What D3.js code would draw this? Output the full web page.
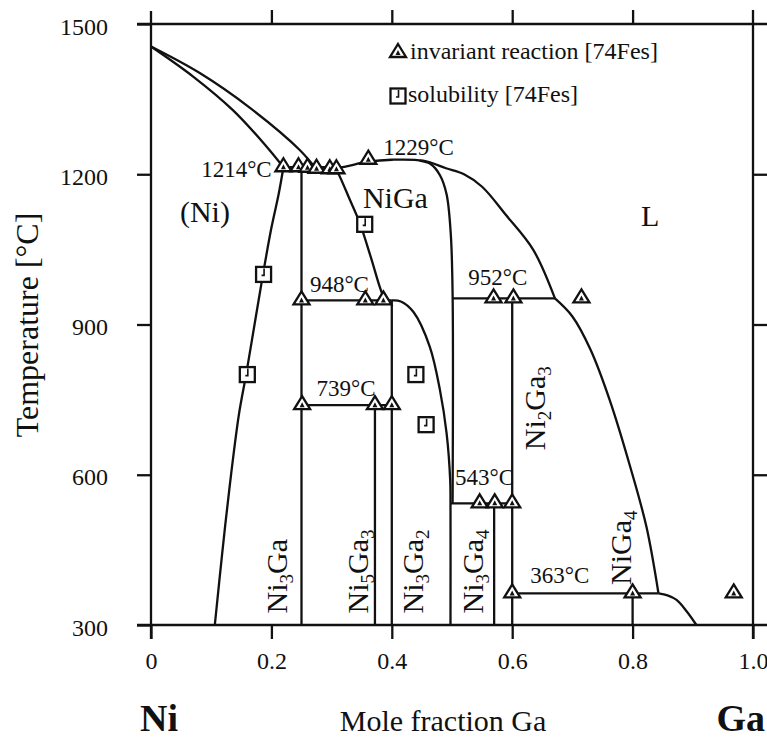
<!DOCTYPE html>
<html><head><meta charset="utf-8">
<script src="https://cdn.jsdelivr.net/npm/d3@7"></script>
<style>
html,body{margin:0;padding:0;background:#fff;}
svg{display:block;}
text{font-family:"Liberation Serif","Times New Roman",serif;}
</style></head><body>
<svg id="chart" width="767" height="742" font-family="Liberation Serif, serif"></svg>
<script>
// ---------- data (mole fraction Ga, temperature °C) ----------
const xTicks = [0, 0.2, 0.4, 0.6, 0.8, 1.0];
const xTickLabels = ["0", "0.2", "0.4", "0.6", "0.8", "1.0"];
const yTicks = [300, 600, 900, 1200, 1500];
const topTicks = [0.2, 0.4, 0.6, 0.8];
const rightTicks = [600, 900, 1200];

const niLiquidus = [[0,1455],[0.081,1402],[0.165,1332],[0.2475,1248],[0.272,1214]];
const niSolidus = [[0,1455],[0.07,1395],[0.136,1328],[0.19,1258],[0.22,1214]];
const niSolvus = [[0.22,1214],[0.212,1160],[0.2,1093],[0.186,1000],[0.172,900],[0.158,800],[0.146,720],[0.13,570],[0.118,440],[0.106,300]];
const liquidusUpper = [[0.272,1214],[0.31,1213],[0.36,1225],[0.40,1229],[0.452,1227],[0.49,1212],[0.52,1200],[0.55,1175],[0.59,1118],[0.635,1049],[0.671,952]];
const liquidusMid = [[0.671,952],[0.70,916],[0.73,850],[0.762,749],[0.796,616],[0.823,496],[0.843,363]];
const liquidusLow = [[0.843,363],[0.858,359],[0.873,350],[0.89,327],[0.906,300]];
const nigaLeft = [[0.305,1214],[0.311,1202],[0.33,1150],[0.347,1102],[0.365,1035],[0.38,975],[0.388,948]];
const nigaRight = [[0.446,1227],[0.465,1220],[0.48,1198],[0.491,1160],[0.498,1080],[0.501,960],[0.501,543]];
const ni3ga2Right = [[0.4,948],[0.415,946],[0.436,925],[0.463,856],[0.48,769],[0.491,683],[0.497,589],[0.4975,543],[0.4975,300]];

// isotherms [x1, x2, T]
const isotherms = [[0.22,0.308,1214],[0.25,0.4,948],[0.25,0.4,739],[0.501,0.671,952],[0.4975,0.6,543],[0.6,0.843,363]];
// compound lines [x, Ttop, Tbottom]
const compounds = [[0.25,1214,300],[0.372,739,300],[0.4,948,300],[0.57,543,300],[0.6,952,300],[0.8,363,300]];

const invariantPts = [[0.22,1214],[0.245,1214],[0.26,1213],[0.275,1211],[0.297,1210],[0.308,1210],[0.361,1229],
  [0.25,948],[0.356,948],[0.386,948],[0.251,739],[0.372,739],[0.4,739],
  [0.569,952],[0.602,952],[0.715,952],[0.546,543],[0.571,543],[0.6,543],
  [0.6,363],[0.8,363],[0.968,363]];
const solubilityPts = [[0.187,1000],[0.16,800],[0.355,1100],[0.44,800],[0.457,700]];

const tempLabels = ["1214°C","1229°C","948°C","739°C","952°C","543°C","363°C"];
const tempLabelAt = [[0.2005,1195],[0.386,1238],[0.264,965],[0.275,758],[0.527,979],[0.505,580],[0.63,384]];
const regionLabels = ["(Ni)","NiGa","L"];
const regionLabelAt = [[0.048,1105],[0.352,1133],[0.814,1097]];
const compoundNames = ["Ni_3Ga","Ni_5Ga_3","Ni_3Ga_2","Ni_3Ga_4","Ni_2Ga_3","NiGa_4"];
const compoundLabelAt = [[0.226,323],[0.361,323],[0.452,323],[0.551,323],[0.654,649],[0.797,380]];
const legendLabels = ["invariant reaction [74Fes]","solubility [74Fes]"];

// ---------- drawing ----------
const FONT = "Liberation Serif, serif";
const svg = d3.select("#chart");
const x = d3.scaleLinear().domain([0,1]).range([151,753]);
const y = d3.scaleLinear().domain([300,1500]).range([625,24]);
const ink = "#111";
const ext = 14;
const sw = 2.3;

// frame
const [x0,x1] = x.range(), [y0,y1] = y.range();
const frame = svg.append("g").attr("stroke",ink).attr("stroke-width",sw);
frame.append("line").attr("x1",x0).attr("x2",x0).attr("y1",y1-ext+1).attr("y2",y0+ext);
frame.append("line").attr("x1",x1).attr("x2",x1).attr("y1",y1-ext).attr("y2",y0+ext);
frame.append("line").attr("x1",x0-ext).attr("x2",767).attr("y1",y1).attr("y2",y1);
frame.append("line").attr("x1",x0-ext).attr("x2",767).attr("y1",y0).attr("y2",y0);

function styleAxis(g){
  g.attr("font-family",FONT).attr("font-size",24);
  g.select(".domain").remove();
  g.selectAll(".tick line").attr("stroke",ink).attr("stroke-width",sw);
  g.selectAll("text").attr("fill",ink).attr("font-family",FONT).attr("font-size",24);
}
svg.append("g").attr("transform",`translate(0,${y0})`)
  .call(d3.axisBottom(x).tickValues(xTicks).tickSize(ext).tickPadding(13).tickFormat((d,i)=>xTickLabels[i]))
  .call(styleAxis);
svg.append("g").attr("transform",`translate(${x0},0)`)
  .call(d3.axisLeft(y).tickValues(yTicks).tickSize(ext).tickPadding(29).tickFormat(d3.format("d")))
  .call(styleAxis).selectAll("text").attr("dy","0.42em");
svg.append("g").attr("transform",`translate(0,${y1})`)
  .call(d3.axisTop(x).tickValues(topTicks).tickSize(ext).tickFormat(""))
  .call(styleAxis);
svg.append("g").attr("transform",`translate(${x1},0)`)
  .call(d3.axisRight(y).tickValues(rightTicks).tickSize(ext).tickFormat(""))
  .call(styleAxis);

// curves
const line = d3.line().x(d=>x(d[0])).y(d=>y(d[1])).curve(d3.curveCatmullRom.alpha(0.5));
const curves = [niLiquidus, niSolidus, niSolvus, liquidusUpper, liquidusMid, liquidusLow, nigaLeft, nigaRight, ni3ga2Right];
svg.append("g").selectAll("path").data(curves).join("path")
  .attr("d",line).attr("fill","none").attr("stroke",ink).attr("stroke-width",sw);

svg.append("g").selectAll("line").data(isotherms).join("line")
  .attr("x1",d=>x(d[0])).attr("x2",d=>x(d[1])).attr("y1",d=>y(d[2])).attr("y2",d=>y(d[2]))
  .attr("stroke",ink).attr("stroke-width",sw);
svg.append("g").selectAll("line").data(compounds).join("line")
  .attr("x1",d=>x(d[0])).attr("x2",d=>x(d[0])).attr("y1",d=>y(d[1])).attr("y2",d=>y(d[2]))
  .attr("stroke",ink).attr("stroke-width",sw);

// markers
function triangle(g){
  g.append("path").attr("d","M0,-9L8,4L-8,4Z").attr("fill","#fff").attr("stroke",ink).attr("stroke-width",sw).attr("stroke-linejoin","miter");
  g.append("path").attr("d","M0,-3L2.5,2L-2.5,2Z").attr("fill",ink);
}
function square(g){
  g.append("rect").attr("x",-7.5).attr("y",-7.5).attr("width",15).attr("height",15).attr("fill","#fff").attr("stroke",ink).attr("stroke-width",sw);
  g.append("path").attr("d","M0.5,-6V1H-2").attr("fill","none").attr("stroke",ink).attr("stroke-width",1.6);
}
svg.append("g").selectAll("g").data(invariantPts).join("g")
  .attr("transform",d=>`translate(${x(d[0])},${y(d[1])})`).each(function(){triangle(d3.select(this));});
svg.append("g").selectAll("g").data(solubilityPts).join("g")
  .attr("transform",d=>`translate(${x(d[0])},${y(d[1])})`).each(function(){square(d3.select(this));});

// temperature labels
svg.append("g").selectAll("text").data(tempLabels).join("text")
  .attr("x",(d,i)=>x(tempLabelAt[i][0])).attr("y",(d,i)=>y(tempLabelAt[i][1]))
  .attr("text-anchor",(d,i)=>i===0?"end":"start")
  .attr("font-family",FONT).attr("font-size",23).attr("fill",ink).text(d=>d);

// region labels
svg.append("g").selectAll("text").data(regionLabels).join("text")
  .attr("x",(d,i)=>x(regionLabelAt[i][0])).attr("y",(d,i)=>y(regionLabelAt[i][1]))
  .attr("font-family",FONT).attr("font-size",30).attr("fill",ink).text(d=>d);

// compound labels (rotated, with subscripts)
const cg = svg.append("g").selectAll("text").data(compoundNames).join("text")
  .attr("transform",(d,i)=>`translate(${x(compoundLabelAt[i][0])},${y(compoundLabelAt[i][1])}) rotate(-90)`)
  .attr("font-family",FONT).attr("font-size",30).attr("fill",ink);
cg.each(function(d){
  const t = d3.select(this);
  const parts = d.split(/_(\d)/);
  parts.forEach((p,k)=>{
    if(!p) return;
    if(k%2===1){
      t.append("tspan").attr("font-size",19).attr("dy",6).text(p);
    } else {
      t.append("tspan").attr("dy",k===0?0:-6).text(p);
    }
  });
});

// legend
const lg = svg.append("g");
triangle(lg.append("g").attr("transform","translate(398,53)"));
square(lg.append("g").attr("transform","translate(398,96)"));
lg.selectAll("text").data(legendLabels).join("text")
  .attr("x",(d,i)=>i===0?410:408).attr("y",(d,i)=>i===0?59:102)
  .attr("font-family",FONT).attr("font-size",24).attr("fill",ink).text(d=>d);

// axis titles
svg.append("text").attr("transform","translate(38,325) rotate(-90)").attr("text-anchor","middle")
  .attr("font-family",FONT).attr("font-size",32).attr("fill",ink).text("Temperature [°C]");
svg.append("text").attr("x",443).attr("y",731).attr("text-anchor","middle")
  .attr("font-family",FONT).attr("font-size",30).attr("fill",ink).text("Mole fraction Ga");
svg.append("text").attr("x",140).attr("y",731).attr("font-family",FONT).attr("font-size",38).attr("font-weight","bold").attr("fill",ink).text("Ni");
svg.append("text").attr("x",765).attr("y",731).attr("text-anchor","end").attr("font-family",FONT).attr("font-size",38).attr("font-weight","bold").attr("fill",ink).text("Ga");
</script>
</body></html>
